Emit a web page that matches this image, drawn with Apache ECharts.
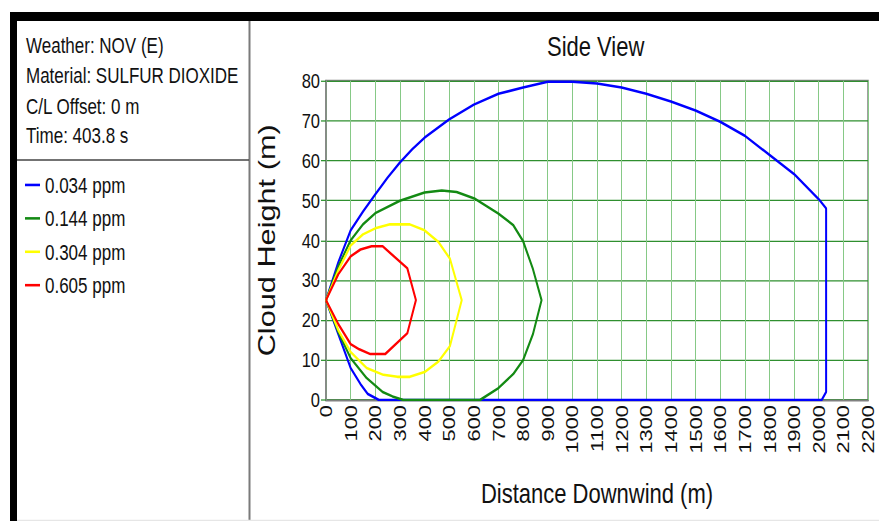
<!DOCTYPE html>
<html>
<head>
<meta charset="utf-8">
<script src="https://cdn.jsdelivr.net/npm/echarts@6/dist/echarts.min.js"></script>
<style>
html,body{margin:0;padding:0;background:#fff;width:879px;height:521px;}
#wrap{position:relative;width:879px;height:521px;overflow:visible;}
#chart{position:absolute;left:0;top:0;width:879px;height:407px;transform:scaleY(1.28);transform-origin:0 0;}
</style>
</head>
<body>
<div id="wrap"><div id="chart"></div></div>
<script>
// ---------- data ----------
const chartTitle = 'Side View';
const xAxisTitle = 'Distance Downwind (m)';
const yAxisTitle = 'Cloud Height (m)';
const infoLines = ['Weather: NOV (E)', 'Material: SULFUR DIOXIDE', 'C/L Offset: 0 m', 'Time: 403.8 s'];
const seriesNames = ['0.034 ppm', '0.144 ppm', '0.304 ppm', '0.605 ppm'];
const xRange = [0, 2200, 100];
const yRange = [0, 80, 10];

// [distance downwind (m), cloud height (m)] outlines
const ppm0034 = [
  [0,25],[50,34.5],[100,42.5],[150,47.2],[200,51.5],[250,55.7],[300,59.5],[350,62.8],[400,65.7],[500,70.3],[600,74],
  [700,76.7],[800,78.3],[900,79.7],[1000,79.7],[1100,79.3],[1200,78.3],[1300,76.7],[1400,74.8],
  [1500,72.5],[1600,69.7],[1700,66.2],[1800,61.4],[1900,56.6],[2000,50.3],[2030,48],[2030,2],
  [2012,0],[215,0],[170,1.5],[140,4],[100,8],[50,16.5],[0,25]
];
const ppm0144 = [
  [0,25],[50,33.5],[100,40],[150,44],[200,46.8],[300,49.9],[400,52],[470,52.5],[530,52.1],[605,50.4],
  [700,46.7],[760,43.8],[800,39.8],[840,32.8],[875,25],[840,16.5],[800,10],[760,6.5],[700,3],
  [625,0],[314,0],[270,0.9],[230,2],[165,5.5],[100,10.5],[50,17],[0,25]
];
const ppm0304 = [
  [0,25],[50,32.5],[100,38.7],[150,41.5],[200,43],[260,44],[340,44],[400,42.5],[456,39.6],[503,35.4],
  [551,25],[503,13.5],[456,9.6],[400,7],[340,5.8],[290,5.8],[233,6.3],[165,8],[100,12],[50,17.5],[0,25]
];
const ppm0605 = [
  [0,25],[50,31.5],[100,36],[140,37.7],[185,38.5],[230,38.5],[330,33],[365,25],[330,16.7],
  [240,11.5],[180,11.5],[135,12.7],[100,14],[50,19],[0,25]
];
const seriesData = [ppm0034, ppm0144, ppm0304, ppm0605];

// ---------- styles ----------
const FONT = "'Liberation Sans', Arial, Helvetica, sans-serif";
const seriesColors = ['#0000ff', '#138a13', '#ffff00', '#ff0000'];

const chart = echarts.init(document.getElementById('chart'), null, {renderer: 'svg'});

const graphics = [
  {type: 'rect', shape: {x: 10, y: 9.4, width: 869, height: 7}, style: {fill: '#000'}, silent: true},
  {type: 'rect', shape: {x: 10, y: 9.4, width: 7, height: 400}, style: {fill: '#000'}, silent: true},
  {type: 'line', shape: {x1: 249.5, y1: 16.4, x2: 249.5, y2: 407}, style: {stroke: '#7a7a7a', lineWidth: 2}, silent: true},
  {type: 'line', shape: {x1: 17, y1: 125, x2: 249, y2: 125}, style: {stroke: '#444', lineWidth: 1}, silent: true},
  {type: 'line', shape: {x1: 17, y1: 406.5, x2: 879, y2: 406.5}, style: {stroke: '#e6e6e6', lineWidth: 1}, silent: true}
];
const infoY = [35.6, 59.1, 82.6, 106];
infoLines.forEach((t, i) => {
  graphics.push({type: 'text', x: 26, y: infoY[i], silent: true,
    style: {text: t, fill: '#111', font: '17px ' + FONT, verticalAlign: 'middle', align: 'left'}});
});

const option = {
  backgroundColor: '#fff',
  animation: false,
  textStyle: {fontFamily: FONT},
  title: {
    text: chartTitle, left: 547, top: 25, padding: 0,
    textStyle: {fontSize: 22, fontWeight: 'normal', color: '#111', fontFamily: FONT}
  },
  legend: {
    orient: 'vertical', left: 25, top: 134.5, padding: 0,
    itemGap: 6.1, itemWidth: 15, itemHeight: 2, icon: 'rect',
    data: seriesNames,
    textStyle: {fontSize: 17, lineHeight: 20, color: '#111', fontFamily: FONT}
  },
  grid: {
    left: 326, top: 63, width: 542, height: 249.5,
    show: true, borderColor: '#808080', borderWidth: 1.5, backgroundColor: '#fff'
  },
  xAxis: {
    type: 'value', min: xRange[0], max: xRange[1], interval: xRange[2],
    name: xAxisTitle, nameLocation: 'middle', nameGap: 62,
    nameTextStyle: {fontSize: 22, color: '#111', fontFamily: FONT},
    axisLine: {show: true, lineStyle: {color: '#808080', width: 1.5}},
    axisTick: {show: false},
    axisLabel: {rotate: 90, margin: 4, fontSize: 17, color: '#111', fontFamily: FONT,
      showMinLabel: true, showMaxLabel: true, formatter: v => String(v)},
    splitLine: {show: true, lineStyle: {color: '#86c986', width: 1}}
  },
  yAxis: {
    type: 'value', min: yRange[0], max: yRange[1], interval: yRange[2],
    name: yAxisTitle, nameLocation: 'middle', nameGap: 47, nameRotate: 90,
    nameTextStyle: {fontSize: 24, color: '#111', fontFamily: FONT},
    axisLine: {show: true, lineStyle: {color: '#808080', width: 1.5}},
    axisTick: {show: true, length: 5, lineStyle: {color: '#2f932f'}},
    axisLabel: {margin: 6, fontSize: 16.5, color: '#111', fontFamily: FONT},
    splitLine: {show: true, lineStyle: {color: '#2f8f2f', width: 1}}
  },
  graphic: graphics,
  series: seriesNames.map((n, i) => ({
    name: n, type: 'line', data: seriesData[i], showSymbol: false, smooth: false,
    color: seriesColors[i], lineStyle: {width: 2, color: seriesColors[i]},
    z: 2 + i
  }))
};
chart.setOption(option);
</script>
</body>
</html>
